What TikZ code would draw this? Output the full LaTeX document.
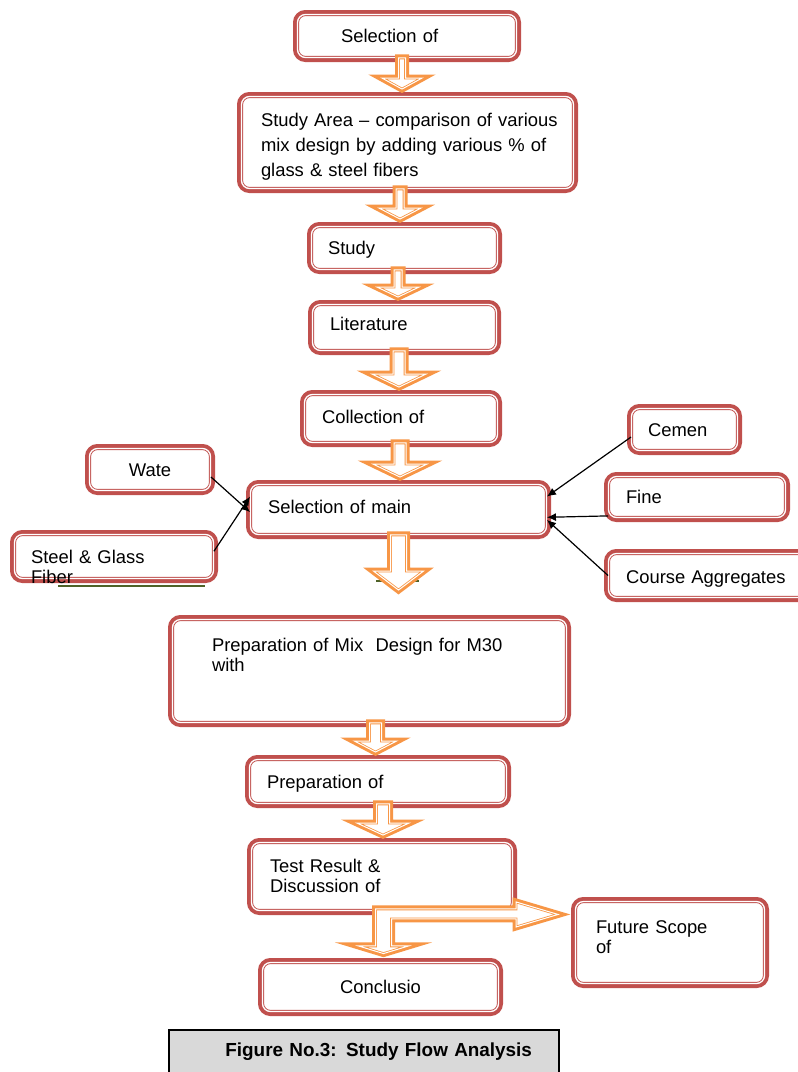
\documentclass[tikz,border=0pt]{standalone}
\usepackage{fontspec}
\setmainfont{Liberation Sans}
\usetikzlibrary{calc,arrows.meta}

\definecolor{boxred}{RGB}{192,80,77}
\definecolor{arrorange}{RGB}{247,150,70}
\definecolor{capgray}{RGB}{217,217,217}
\definecolor{artgreen}{RGB}{79,98,40}

\tikzset{
  flowbox/.style={rectangle, rounded corners=8pt,
    preaction={draw=boxred, line width=9pt},
    fill=white, draw=boxred, line width=0.9pt, double=white, double distance=1.3pt,
    font=\fontsize{18.4}{20}\selectfont, align=left, inner xsep=0pt, inner ysep=0pt,
    text height=13.4pt, text depth=0pt},
  hollowarrow/.style={preaction={draw=arrorange, line width=7pt},
    fill=white, draw=arrorange, line width=0.8pt, double=white, double distance=1pt},
  feed/.style={->, black, line width=1.2pt},
  figcaption/.style={rectangle, draw=black, line width=2.5pt, fill=capgray,
    font=\fontsize{18.9}{22}\selectfont\bfseries, align=right, inner xsep=0pt, inner ysep=4pt}
}

% block arrow: from, to, x, half shaft, half head, head length
\newcommand{\flowdown}[6]{%
  \draw[hollowarrow] let \p1=(#1), \p2=(#2), \p3=(#3,0) in
    (\x3-#4pt,\y1) -- (\x3-#4pt,\y2+7pt+#6pt) -- (\x3-#5pt,\y2+7pt+#6pt) -- (\x3,\y2+7pt)
    -- (\x3+#5pt,\y2+7pt+#6pt) -- (\x3+#4pt,\y2+7pt+#6pt) -- (\x3+#4pt,\y1) -- cycle;}

\begin{document}
\begin{tikzpicture}[x=1pt,y=-1pt,>={Latex[length=9pt,width=8pt]}]
\useasboundingbox (0,0) rectangle (798,1072);
\clip (0,0) rectangle (798,1072);

\node[flowbox, minimum width=219pt, minimum height=43pt, text width=132pt] (sel1) at (407,36) {Selection of};
\node[flowbox, minimum width=332pt, minimum height=92pt, text width=293pt, text depth=45pt] (area) at (407.5,142.5)
  {\mbox{Study Area -- comparison of various}\\[5pt] \mbox{mix design by adding various \% of}\\[5pt] glass \& steel fibers};
\node[flowbox, minimum width=186pt, minimum height=43pt, text width=153pt] (study) at (404.5,248) {Study};
\node[flowbox, minimum width=184pt, minimum height=46pt, text width=149pt, text depth=7.2pt] (lit) at (404.5,327.5) {Literature};
\node[flowbox, minimum width=193pt, minimum height=48pt, text width=158pt, text depth=3.2pt] (coll) at (401,418.5) {Collection of};
\node[flowbox, minimum width=296pt, minimum height=50pt, text width=261pt, text depth=5.2pt] (main) at (398.5,509.5) {Selection of main};

\node[flowbox, minimum width=121pt, minimum height=42pt, align=center, text height=14.2pt] (wate) at (150,469.5) {Wate};
\node[flowbox, minimum width=199pt, minimum height=44pt, text width=166pt, text height=14.2pt] (steel) at (114,556.5) {Steel \& Glass\\ Fiber};
\draw[artgreen, line width=1.2pt] (58,586) -- (205,586);

\node[flowbox, minimum width=106pt, minimum height=42pt, text width=73pt, text height=14.2pt] (cemen) at (684.5,429.5) {Cemen};
\node[flowbox, minimum width=177pt, minimum height=41pt, text width=142pt] (fine) at (697,497) {Fine};
\node[flowbox, minimum width=207pt, minimum height=44pt, text width=172pt, text height=16.2pt] (course) at (712,575.5) {Course Aggregates};

\node[flowbox, minimum width=394pt, minimum height=103pt, text width=315pt, text depth=52.2pt] (prep) at (369.5,671)
  {Preparation of Mix\ \ Design for M30\\ with};
\node[flowbox, minimum width=257pt, minimum height=44pt, text width=222pt, text height=14.2pt] (prepof) at (378,781.5) {Preparation of};
\node[flowbox, minimum width=261pt, minimum height=68pt, text width=224pt, text depth=21.2pt] (test) at (382,876.5)
  {Test Result \&\\ Discussion of};
\node[flowbox, minimum width=189pt, minimum height=82pt, text width=148pt, text depth=31.2pt] (future) at (670,942.5)
  {Future Scope\\ of};
\node[flowbox, minimum width=236pt, minimum height=49pt, align=center] (concl) at (380.5,987) {Conclusio};

\node[figcaption, anchor=north, minimum width=390pt, text width=336pt, text height=22.5pt, text depth=25pt] (fig) at (364,1028.5)
  {Figure No.3: Study Flow Analysis};

\draw[feed] (wate.-7) -- (main.181);
\draw[feed] (steel.3) -- (main.175);
\draw[feed] (cemen.188) -- (main.5);
\draw[feed] (fine.192) -- (main.-3);
\draw[feed] (course.180) -- (main.-4);

\flowdown{sel1.south}{area.north}{402}{3.5}{20}{11}
\flowdown{area.south}{study.north}{400}{4}{21}{11}
\flowdown{study.south}{lit.north}{398}{4}{21}{10}
\flowdown{lit.south}{coll.north}{399}{6}{27}{13}
\flowdown{coll.south}{main.north}{400}{6}{27}{13}
\draw[artgreen, line width=1.2pt] (376,581) -- (419,581);
\flowdown{main.south}{[yshift=22pt]prep.north}{398.5}{8}{25}{19}
\flowdown{prep.south}{prepof.north}{375.5}{6}{21}{11}
\flowdown{prepof.south}{test.north}{383}{6.5}{26}{12}

\draw[hollowarrow] let \p1=(test.south), \p2=(future.west), \p3=(concl.north) in
  (\x1-6.5pt,\y1+2pt) -- (\x2-59pt,\y1+2pt) -- (\x2-59pt,\y1+9pt) -- (\x2-17pt,\y1-3.5pt)
  -- (\x2-59pt,\y1-16pt) -- (\x2-59pt,\y1-8pt) -- (\x1+9.5pt,\y1-8pt) -- (\x1+9.5pt,\y1-35pt)
  -- (\x1+26.5pt,\y1-35pt) -- (\x1+1.5pt,\y3+8.5pt) -- (\x1-23.5pt,\y1-35pt) -- (\x1-6.5pt,\y1-35pt) -- cycle;

\end{tikzpicture}
\end{document}
